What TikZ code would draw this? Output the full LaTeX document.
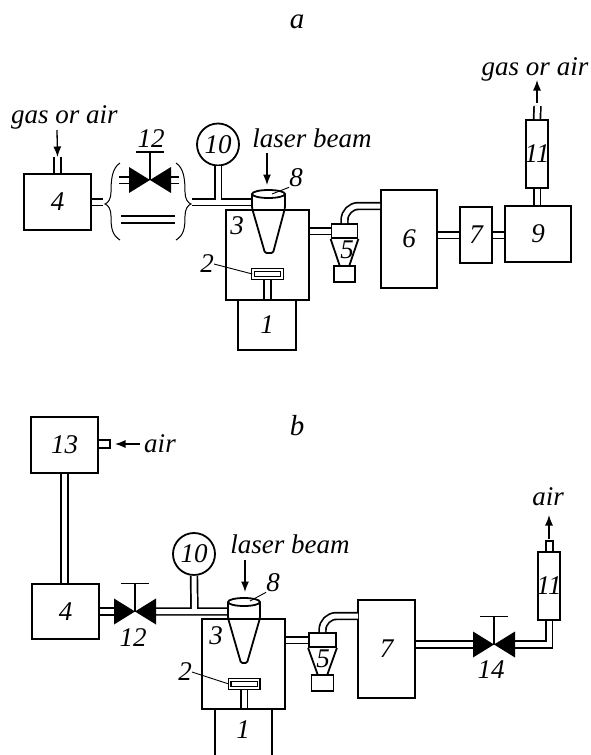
\documentclass[tikz,border=0pt]{standalone}
\usepackage{fontspec}
\setmainfont{Liberation Serif}
\usetikzlibrary{arrows.meta, positioning}

\begin{document}
\begin{tikzpicture}[
    x=1pt, y=-1pt,
    >={Latex[length=10.5pt, width=8pt]},
    every node/.style={font=\fontsize{27}{29}\selectfont\itshape, inner sep=0pt},
    title/.style={font=\fontsize{29}{31}\selectfont\itshape},
    wall/.style={line width=1.8pt},
    unit/.style={draw, wall, rectangle},
    gauge/.style={draw, wall, circle, minimum size=42pt},
    pipe/.style={line width=1.7pt, double, double distance=5pt},
    flow/.style={->, line width=1.3pt},
    leader/.style={line width=0.9pt},
    brace line/.style={line width=1pt},
    holder/.style={draw, line width=1.3pt, double, double distance=1.4pt, minimum width=29pt, minimum height=8pt},
    valve/.pic={
        \fill (-21,-13) -- (0,0) -- (-21,13) -- cycle
              (21,-13) -- (0,0) -- (21,13) -- cycle;
        \draw[wall] (0,0) -- (0,-28) (-14,-28) -- (14,-28);
    }
]
    \clip (0,0) rectangle (591,755);

    % === Panel a ===
    \node[title] (titleA) at (297,22) {a};
    \node[anchor=base] (gasInA) at (64.5,123) {gas or air};
    \node[anchor=base] (gasOutA) at (535,75) {gas or air};
    \node[anchor=base] (laserA) at (312,147) {laser beam};

    % Units
    \node[unit, minimum width=67pt, minimum height=56pt] (boxD) at (57.5,202) {4};
    \node[unit, minimum width=83pt, minimum height=90pt] (boxC) at (267.5,255) {};
    \node[unit, minimum width=58pt, minimum height=50pt] (boxA) at (267,325) {1};
    \node[unit, minimum width=56pt, minimum height=98pt] (boxF) at (409,239) {6};
    \node[unit, minimum width=32pt, minimum height=56pt] (boxG) at (476,235) {7};
    \node[unit, minimum width=66pt, minimum height=56pt] (boxI) at (538,234) {9};
    \node[unit, minimum width=22pt, minimum height=68pt] (boxK) at (537,154) {\makebox[0pt]{11}};
    \node[unit, minimum width=26pt, minimum height=14pt] (headA) at (344.5,231) {};
    \node[unit, minimum width=21pt, minimum height=16pt] (catchA) at (344.5,274) {};
    \node[gauge] (gaugeA) at (218,144.5) {10};
    \node[holder] (holdA) at (267.5,274) {};

    % Labels
    \node (tagCa) at (237,226) {3};
    \node (tagBa) at (207,264) {2};
    \node (tagHa) at (296,178) {8};
    \node (tagEa) at (347,250) {5};
    \node (tagLa) at (151,139) {12};

    % Free ends
    \coordinate (valveA) at (150,180);
    \coordinate (stubAL) at (119,180);
    \coordinate (stubAR) at (179,180);
    \coordinate (bypassAL) at (121,219.5);
    \coordinate (bypassAR) at (175,219.5);
    \coordinate (braceAL) at (103,202);
    \coordinate (braceAR) at (192,202);
    \coordinate (portA) at (252,202);
    \coordinate (teeA) at (218,202);
    \coordinate (bendA) at (380,206);
    \coordinate (feedA) at (57.5,157);
    \coordinate (ventA) at (537.5,106);
    \coordinate (arrowInA) at (57,130);
    \coordinate (arrowOutA) at (537,103);
    \coordinate (arrowOutTipA) at (537,80);
    \coordinate (laserFromA) at (267,153);
    \coordinate (laserToA) at (267,185);
    \coordinate (topA) at (272,194);

    % Pipes
    \draw[pipe] (boxD.east) -- (braceAL);
    \draw[pipe] (boxD.north) -- (feedA);
    \draw[pipe, shorten >=20pt] (stubAL) -- (valveA);
    \draw[pipe, shorten >=20pt] (stubAR) -- (valveA);
    \draw[pipe] (bypassAL) -- (bypassAR);
    \draw[pipe] (braceAR) -- (portA) (teeA) -- (gaugeA.south);
    \draw[pipe, shorten >=1.5pt] (holdA.south) -- (holdA.south |- boxC.south);
    \draw[pipe] (headA.west -| boxC.east) -- (headA.west);
    \draw[pipe, rounded corners=14pt] (headA.north) |- (bendA);
    \draw[pipe] (boxF.east |- boxG.west) -- (boxG.west);
    \draw[pipe] (boxG.east) -- (boxG.east -| boxI.west);
    \draw[pipe] (boxI.north -| boxK.south) -- (boxK.south);
    \draw[pipe] (boxK.north) -- (ventA);

    % Valve, braces, nozzle
    \pic at (valveA) {valve};
    \draw[brace line] (120,163) .. controls (112,168) and (111,180) .. (111,192)
        .. controls (111,199) and (108,203) .. (105,204)
        .. controls (108,205) and (111,209) .. (111,216)
        .. controls (111,228) and (112,235) .. (120,240);
    \draw[brace line] (176,163) .. controls (184,168) and (185,180) .. (185,192)
        .. controls (185,199) and (188,203) .. (191,204)
        .. controls (188,205) and (185,209) .. (185,216)
        .. controls (185,228) and (184,235) .. (176,240);
    \draw[wall, rounded corners=1.5pt] (252,194) -- (252,208) -- (265,253) -- (273,253) -- (285,208) -- (285,194);
    \draw[wall, fill=white] (268.5,194) ellipse (16.5 and 4);
    \draw[wall] ([xshift=-5pt]catchA.north) -- (headA.south west) ([xshift=5pt]catchA.north) -- (headA.south east);
    \node[holder] (holdA) at (267.5,274) {};

    % Arrows and leaders
    \draw[flow] (arrowInA) -- (feedA);
    \draw[flow] (arrowOutA) -- (arrowOutTipA);
    \draw[flow] (laserFromA) -- (laserToA);
    \draw[leader] (tagBa.east) -- (holdA.west);
    \draw[leader] (tagHa.south west) -- (topA);

    % === Panel b ===
    \node[title] (titleB) at (297,426) {b};
    \node[anchor=base] (airInB) at (160,452) {air};
    \node[anchor=base] (airOutB) at (548,505) {air};
    \node[anchor=base] (laserB) at (290,553) {laser beam};

    % Units
    \node[unit, minimum width=67pt, minimum height=56pt] (boxM) at (64.5,445) {13};
    \node[unit, minimum width=12pt, minimum height=8pt] (noseM) at (104,444) {};
    \node[unit, minimum width=67pt, minimum height=55pt] (boxDb) at (65.5,611.5) {4};
    \node[unit, minimum width=83pt, minimum height=90pt] (boxCb) at (243.5,664) {};
    \node[unit, minimum width=57pt, minimum height=60pt] (boxAb) at (243.5,739) {};
    \node[unit, minimum width=57pt, minimum height=98pt] (boxGb) at (386.5,649) {7};
    \node[unit, minimum width=22pt, minimum height=68pt] (boxKb) at (549,586) {\makebox[0pt]{11}};
    \node[unit, minimum width=7pt, minimum height=11pt] (noseK) at (549.5,546.5) {};
    \node[unit, minimum width=27pt, minimum height=14pt] (headB) at (322.5,640) {};
    \node[unit, minimum width=22pt, minimum height=16pt] (catchB) at (322.5,683) {};
    \node[gauge] (gaugeB) at (194,554) {10};
    \node[holder] (holdB) at (244,684) {};

    % Labels
    \node (tagCb) at (216,636) {3};
    \node (tagBb) at (185,672) {2};
    \node (tagHb) at (273,583) {8};
    \node (tagEb) at (323,659) {5};
    \node (tagLb) at (133,638) {12};
    \node (tagNb) at (491,670) {14};
    \node (tagAb) at (243,730) {1};

    % Free ends
    \coordinate (valveB) at (135,611.5);
    \coordinate (valveOutB) at (155,611.5);
    \coordinate (valveN) at (494,644.5);
    \coordinate (portB) at (228,611.5);
    \coordinate (teeB) at (194.5,611.5);
    \coordinate (bendB) at (358,616);
    \coordinate (arrowInB) at (140,444);
    \coordinate (arrowInTipB) at (115,444);
    \coordinate (arrowOutB) at (549,539);
    \coordinate (arrowOutTipB) at (549,515);
    \coordinate (laserFromB) at (245,560);
    \coordinate (laserToB) at (245,592);
    \coordinate (topB) at (250,601);

    % Pipes
    \draw[pipe] (boxM.south) -- (boxM.south |- boxDb.north);
    \draw[pipe, shorten >=20pt] (boxDb.east) -- (valveB);
    \draw[pipe] (valveOutB) -- (portB) (teeB) -- (gaugeB.south);
    \draw[pipe, shorten >=1.5pt] (holdB.south) -- (holdB.south |- boxCb.south);
    \draw[pipe] (headB.west -| boxCb.east) -- (headB.west);
    \draw[pipe, rounded corners=14pt] (headB.north) |- (bendB);
    \draw[pipe, shorten >=20pt] (boxGb.east |- valveN) -- (valveN);
    \draw[pipe, shorten <=20pt] (valveN) -| (boxKb.south);

    % Valves and separator
    \pic at (valveB) {valve};
    \pic at (valveN) {valve};
    \draw[wall, rounded corners=1.5pt] (228,602) -- (228,618) -- (241,663) -- (247,663) -- (260,618) -- (260,602);
    \draw[wall, fill=white] (244,602) ellipse (16 and 4);
    \draw[wall] ([xshift=-5pt]catchB.north) -- (headB.south west) ([xshift=5pt]catchB.north) -- (headB.south east);
    \node[holder] (holdB) at (244,684) {};

    % Arrows and leaders
    \draw[flow] (arrowInB) -- (arrowInTipB);
    \draw[flow] (arrowOutB) -- (arrowOutTipB);
    \draw[flow] (laserFromB) -- (laserToB);
    \draw[leader] (tagBb.east) -- (holdB.west);
    \draw[leader] (tagHb.south west) -- (topB);

\end{tikzpicture}
\end{document}
